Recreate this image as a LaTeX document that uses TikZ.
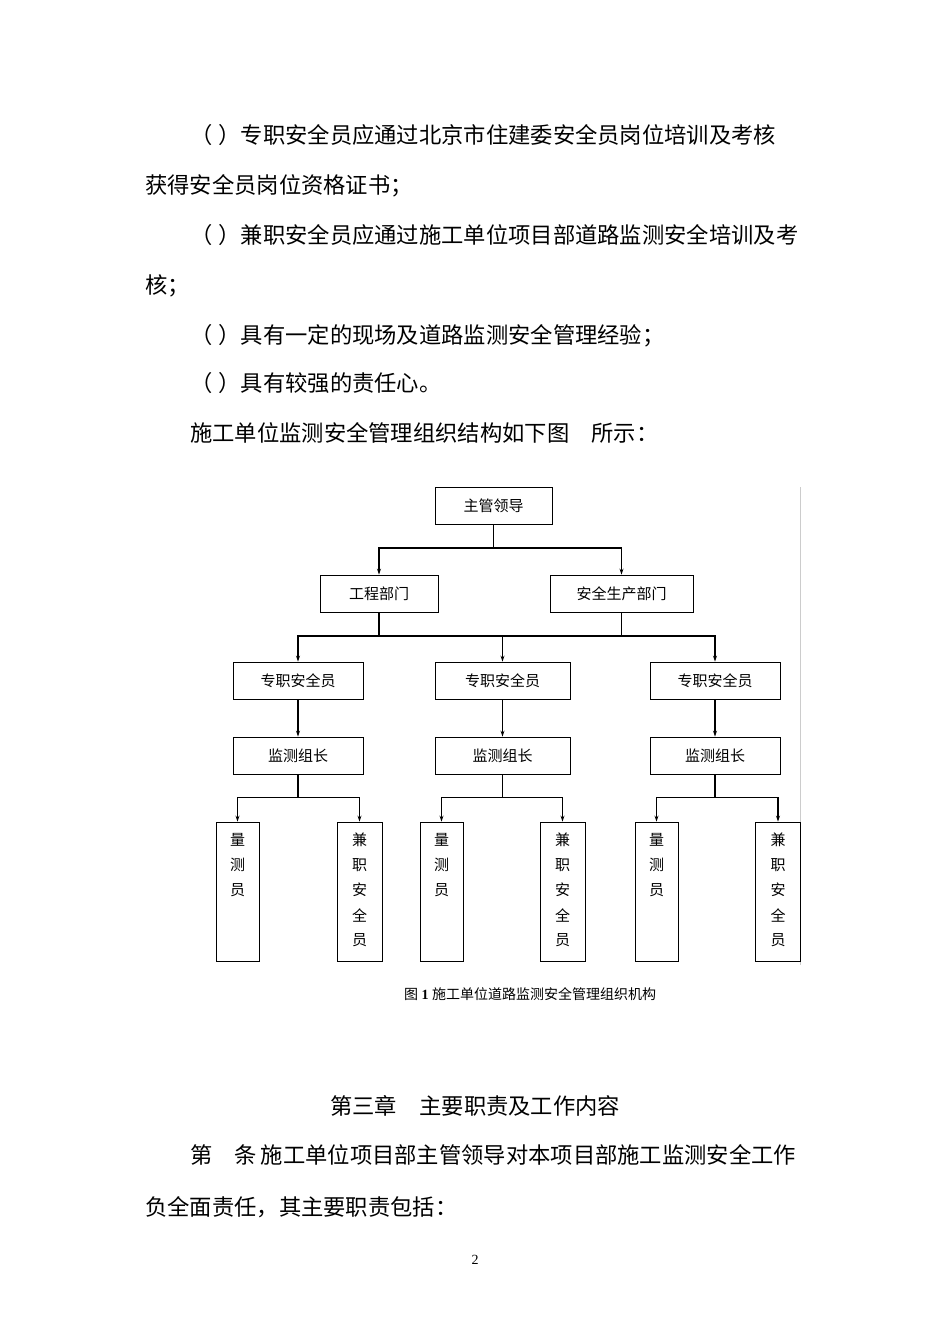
\documentclass[tikz,border=0pt]{standalone}
\usepackage{fontspec}
\usetikzlibrary{arrows.meta,calc}
\setmainfont{Liberation Serif}
\newfontfamily\cjk{Noto Sans CJK SC}
\begin{document}
\begin{tikzpicture}[x=1pt,y=-1pt,
 bx/.style={draw,line width=0.8pt,inner sep=0pt,font=\cjk\fontsize{15}{17}\selectfont},
 ln/.style={line width=1.2pt},
 ar/.style={line width=1.2pt,-{Stealth[length=6pt,width=4pt]}},
 body/.style={anchor=base west,inner sep=0pt,font=\cjk\fontsize{22.3}{24}\selectfont}]
\useasboundingbox (0,0) rectangle (950,1344);
\fill[white] (0,0) rectangle (950,1344);
\node[body] (t1) at (190,143) {（\hspace{6pt}）专职安全员应通过北京市住建委安全员岗位培训及考核};
\node[body] (t2) at (145,193) {获得安全员岗位资格证书；};
\node[body] (t3) at (190,243) {（\hspace{6pt}）兼职安全员应通过施工单位项目部道路监测安全培训及考};
\node[body] (t4) at (145,293) {核；};
\node[body] (t5) at (190,343) {（\hspace{6pt}）具有一定的现场及道路监测安全管理经验；};
\node[body] (t6) at (190,391) {（\hspace{6pt}）具有较强的责任心。};
\node[body] (t7) at (190,441) {施工单位监测安全管理组织结构如下图\quad 所示：};
\node[body] (t8) at (330,1114) {第三章\quad 主要职责及工作内容};
\node[body] (t9) at (190,1163) {第\quad 条\,施工单位项目部主管领导对本项目部施工监测安全工作};
\node[body] (t10) at (145,1215) {负全面责任，其主要职责包括：};
\node[anchor=base,font=\fontsize{14}{16}\selectfont] (pg) at (475,1264) {2};
\node[anchor=base,font=\fontsize{14}{16}\selectfont] (cap) at (530,999) {{\cjk 图} \textbf{1} {\cjk 施工单位道路监测安全管理组织机构}};
\draw[gray!40,line width=1pt] (800,487) -- (800,965);
% boxes
\node[bx,minimum width=117pt,minimum height=37pt] (top) at (493.5,505.5) {主管领导};
\node[bx,minimum width=118pt,minimum height=37pt] (gc) at (379,593.5) {工程部门};
\node[bx,minimum width=143pt,minimum height=37pt] (aq) at (621.5,593.5) {安全生产部门};
\foreach \n/\x/\w in {1/298/130,2/502.5/135,3/715/130}{
 \node[bx,minimum width=\w pt,minimum height=37pt] (z\n) at (\x,680.5) {专职安全员};
 \node[bx,minimum width=\w pt,minimum height=37pt] (j\n) at (\x,755.5) {监测组长};
}
\foreach \n/\a/\b in {1/237.5/359.5,2/441.5/562.5,3/656.5/778}{
 \node[bx,minimum width=43pt,minimum height=139pt] (l\n) at (\a,891.5) {};
 \node[bx,minimum width=45pt,minimum height=139pt] (k\n) at (\b,891.5) {};
 \foreach \c/\y in {量/840,测/865,员/890}{\node[font=\cjk\fontsize{15}{17}\selectfont] at (\a,\y) {\c};}
 \foreach \c/\y in {兼/840,职/865,安/890,全/915,员/940}{\node[font=\cjk\fontsize{15}{17}\selectfont] at (\b,\y) {\c};}
}
% connectors
\coordinate (h1) at (493.5,548);
\draw[ln] (top.south) -- (h1);
\draw[ar] (h1) -| (gc.north);
\draw[ar] (h1) -| (aq.north);
\coordinate (h2a) at (379,636); \coordinate (h2b) at (621.5,636);
\draw[ln] (gc.south) -- (h2a); \draw[ln] (aq.south) -- (h2b);
\draw[ln] (h2a) -- (h2b);
\draw[ar] (h2a) -| (z1.north);
\draw[ar] (h2a) -| (z2.north);
\draw[ar] (h2b) -| (z3.north);
\foreach \n in {1,2,3}{
 \draw[ar] (z\n.south) -- (j\n.north);
 \coordinate (m\n) at ($(j\n.south)+(0,23)$);
 \draw[ln] (j\n.south) -- (m\n);
 \draw[ar] (m\n) -| (l\n.north);
 \draw[ar] (m\n) -| (k\n.north);
}
\end{tikzpicture}
\end{document}
